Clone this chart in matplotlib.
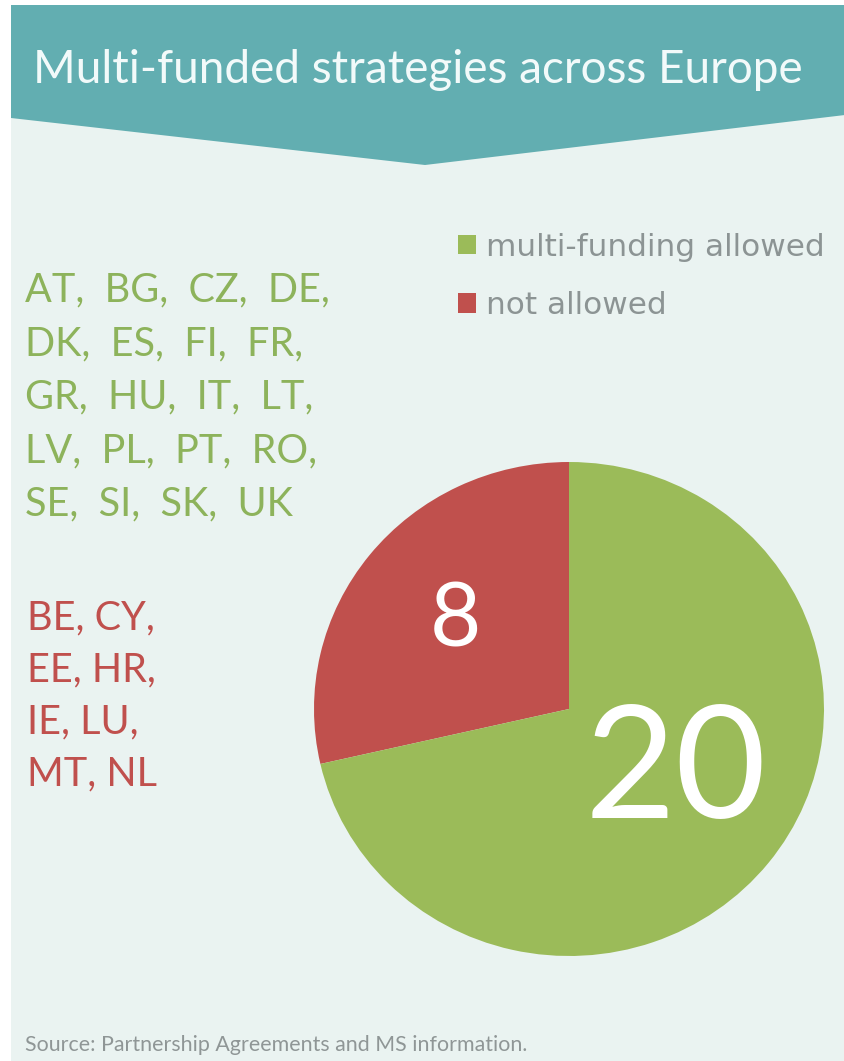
import matplotlib.pyplot as plt
from matplotlib.patches import Polygon, Rectangle
import numpy as np

# data
labels = ['not allowed', 'multi-funding allowed']
counts = [8, 20]
colors = ['#C0504D', '#9BBB59']
allowed = ['AT', 'BG', 'CZ', 'DE', 'DK', 'ES', 'FI', 'FR', 'GR', 'HU',
           'IT', 'LT', 'LV', 'PL', 'PT', 'RO', 'SE', 'SI', 'SK', 'UK']
not_allowed = ['BE', 'CY', 'EE', 'HR', 'IE', 'LU', 'MT', 'NL']
title = 'Multi-funded strategies across Europe'
source = 'Source: Partnership Agreements and MS information.'

W, H = 845, 1061
fig = plt.figure(figsize=(W / 100, H / 100), dpi=100)
fig.patch.set_facecolor('white')

# background, pixel coords
bg = fig.add_axes([0, 0, 1, 1])
bg.set_xlim(0, W)
bg.set_ylim(H, 0)
bg.axis('off')
bg.add_patch(Rectangle((11, 5), W - 11, H - 5, color='#EAF3F1', lw=0))
bg.add_patch(Polygon([(11, 5), (W, 5), (W, 115), (425, 165), (11, 118)],
                     closed=True, color='#62AEB1', lw=0))
bg.text(33, 70, title, fontsize=33, family='Lato', color='#F2FAFA',
        va='center', ha='left')

# country lists
def rows(codes, n, sep):
    return [sep.join(codes[i:i + n]) + (',' if i + n < len(codes) else '')
            for i in range(0, len(codes), n)]

for i, line in enumerate(rows(allowed, 4, ',  ')):
    bg.text(25, 290 + i * 53.5, line, fontsize=28.5, family='Lato',
            color='#8DB35B', va='center', ha='left')
for i, line in enumerate(rows(not_allowed, 2, ', ')):
    bg.text(27, 618 + i * 52, line, fontsize=28.5, family='Lato',
            color='#C0504D', va='center', ha='left')

bg.text(25, 1045, source, fontsize=15.4, family='Lato', color='#8F9696',
        va='center', ha='left')

# pie (slightly squashed like the source image)
cx, cy, rx, ry = 569, 709, 255, 247
ax = fig.add_axes([(cx - rx) / W, (H - cy - ry) / H, 2 * rx / W, 2 * ry / H])
wedges, _ = ax.pie(counts, colors=colors, startangle=90, counterclock=True,
                   wedgeprops=dict(linewidth=0))
ax.set_xlim(-1, 1)
ax.set_ylim(-1, 1)
ax.set_aspect('auto')

# value labels
tot = sum(counts)
ang0 = 90
label_sizes = [64, 113]
label_shift = [0, 6.8]
label_dist = [0.57, 0.494]
for c, fs, sh, d in zip(counts, label_sizes, label_shift, label_dist):
    mid = np.deg2rad(ang0 + c / tot * 180 + sh)
    ax.text(d * np.cos(mid), d * np.sin(mid), str(c), fontsize=fs,
            family='Lato', color='white', ha='center', va='center')
    ang0 += c / tot * 360

leg = fig.legend(wedges[::-1], labels[::-1], loc='upper left',
                 bbox_to_anchor=(442 / W, 1 - 217 / H), frameon=False,
                 prop=dict(family='DejaVu Sans', size=22.4),
                 handlelength=0.6, handleheight=0.6, handletextpad=0.3,
                 labelspacing=0.95, borderpad=0)
for t in leg.get_texts():
    t.set_color('#8C9494')

fig.savefig('out.png', dpi=100, facecolor=fig.get_facecolor())
